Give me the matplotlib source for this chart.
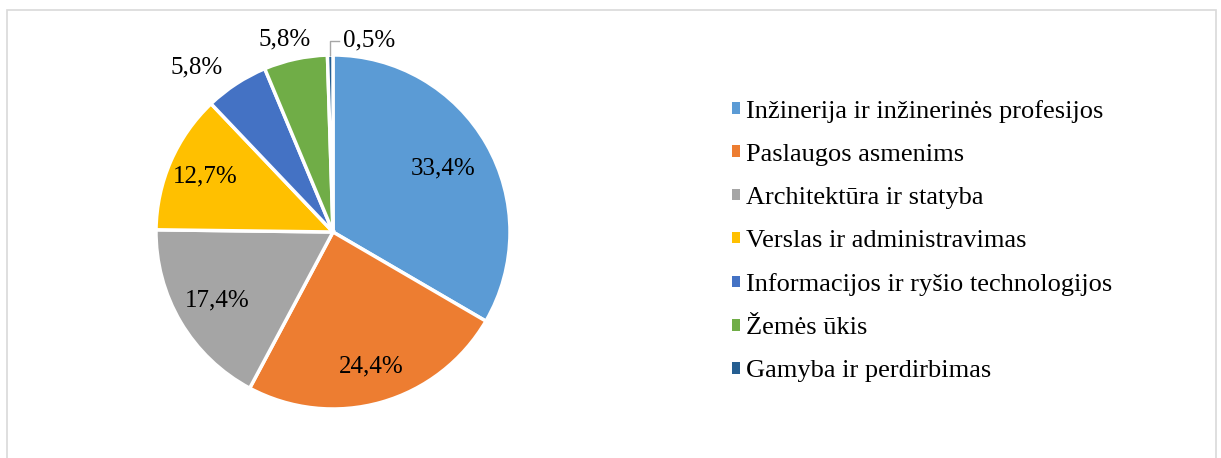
import numpy as np
import matplotlib.pyplot as plt
from matplotlib.patches import Patch, Rectangle

categories = [
    "Inžinerija ir inžinerinės profesijos",
    "Paslaugos asmenims",
    "Architektūra ir statyba",
    "Verslas ir administravimas",
    "Informacijos ir ryšio technologijos",
    "Žemės ūkis",
    "Gamyba ir perdirbimas",
]
shares = [33.4, 24.4, 17.4, 12.7, 5.8, 5.8, 0.5]
value_labels = ["33,4%", "24,4%", "17,4%", "12,7%", "5,8%", "5,8%", "0,5%"]

colors = ["#5B9BD5", "#ED7D31", "#A5A5A5", "#FFC000", "#4472C4", "#70AD47", "#255E91"]
# label placement: radial distance and small angular nudge (degrees)
label_dist = [0.72, 0.79, 0.76, 0.79, 1.21, 1.12, None]
label_nudge = [0, 0, 0, 0, 6.5, 2, 0]

plt.rcParams['font.family'] = ['Liberation Serif', 'DejaVu Serif']

W, H = 1221, 458
fig = plt.figure(figsize=(W / 100, H / 100), dpi=100)

# light frame around the chart area (bottom edge runs off the image)
fig.patches.append(Rectangle((7 / W, -0.05), (1216 - 7) / W, (H - 10) / H + 0.05,
                             transform=fig.transFigure, fill=False,
                             edgecolor="#D9D9D9", linewidth=1.2))

cx, cy, r = 333, 232, 177
ax = fig.add_axes([(cx - r) / W, (H - cy - r) / H, 2 * r / W, 2 * r / H])
wedges, _ = ax.pie(shares, colors=colors, startangle=90, counterclock=False,
                   radius=1, wedgeprops=dict(edgecolor="white", linewidth=2.5))
ax.set_xlim(-1, 1)
ax.set_ylim(-1, 1)
ax.set_aspect('equal')
ax.axis('off')

for w, lab, d, nd in zip(wedges, value_labels, label_dist, label_nudge):
    ang = np.deg2rad((w.theta1 + w.theta2) / 2 + nd)
    if d is None:
        # small slice: leader line up and to the right
        x0, y0 = np.cos(ang), np.sin(ang)
        ax.plot([x0, x0, x0 + 0.05], [y0, 1.08, 1.08], color="#A6A6A6",
                linewidth=1, clip_on=False)
        ax.text(x0 + 0.07, 1.08, lab, ha='left', va='center', fontsize=18,
                clip_on=False)
        continue
    ax.text(d * np.cos(ang), d * np.sin(ang), lab, ha='center', va='center',
            fontsize=18, clip_on=False)

handles = [Patch(facecolor=c, edgecolor='none') for c in colors]
fig.legend(handles, categories, loc='center left',
           bbox_to_anchor=(708 / W, (H - 241) / H), frameon=False,
           fontsize=19, handlelength=0.3, handleheight=0.3,
           handletextpad=0.25, labelspacing=0.8)

fig.savefig("out.png", dpi=100)
